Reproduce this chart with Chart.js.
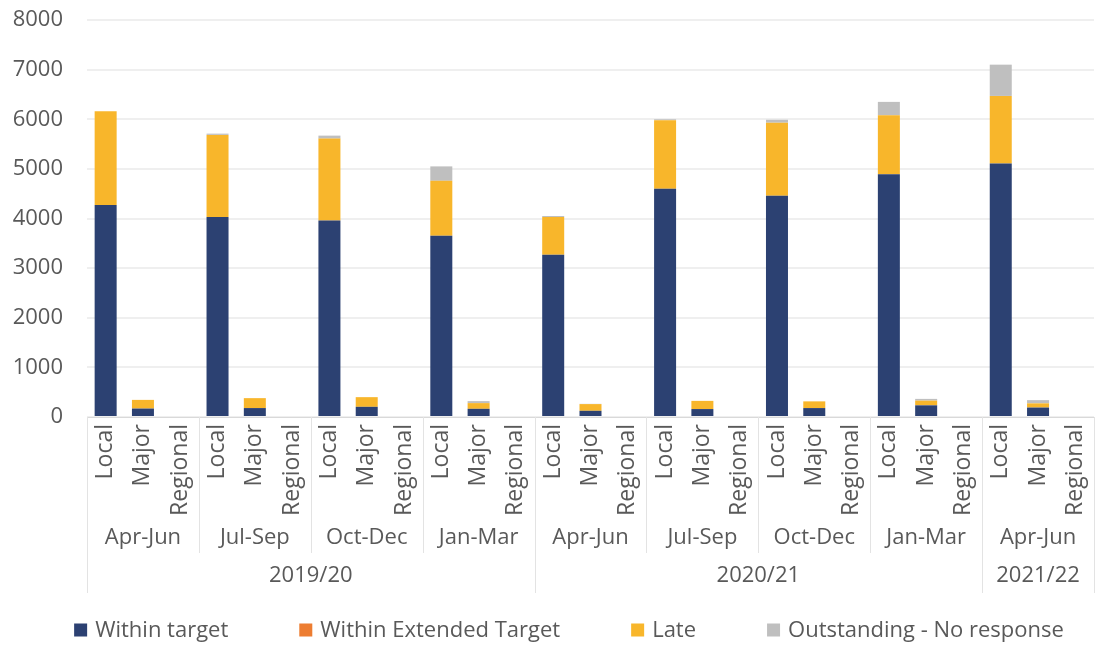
<!DOCTYPE html>
<html>
<head>
<meta charset="utf-8">
<script src="https://cdn.jsdelivr.net/npm/chart.js@4.4.1/dist/chart.umd.min.js"></script>
<style>
  html, body { margin: 0; padding: 0; background: #fff; overflow: hidden; }
  #wrap { width: 1101px; height: 646px; overflow: hidden; }
  canvas { display: block; }
</style>
</head>
<body>
<div id="wrap"><canvas id="chart" width="1110" height="646"></canvas></div>
<script>
// Category levels
const types = ['Local', 'Major', 'Regional'];
const quarters = ['Apr-Jun', 'Jul-Sep', 'Oct-Dec', 'Jan-Mar', 'Apr-Jun', 'Jul-Sep', 'Oct-Dec', 'Jan-Mar', 'Apr-Jun'];
const years = ['2019/20', '2020/21', '2021/22'];
const quartersPerYear = [4, 4, 1];

// Series values (Local, Major, Regional for each quarter)
const withinTarget = [4270, 170, 0, 4030, 180, 0, 3960, 205, 0, 3650, 165, 0, 3270, 125, 0, 4600, 160, 0, 4460, 180, 0, 4890, 235, 0, 5110, 190, 0];
const withinExtended = [0, 0, 0, 0, 0, 0, 0, 0, 0, 0, 0, 0, 0, 0, 0, 0, 0, 0, 0, 0, 0, 0, 0, 0, 0, 0, 0];
const late = [1890, 175, 0, 1655, 200, 0, 1650, 195, 0, 1110, 115, 0, 760, 135, 0, 1380, 165, 0, 1470, 135, 0, 1190, 95, 0, 1360, 85, 0];
const outstanding = [0, 0, 0, 25, 0, 0, 60, 0, 0, 290, 40, 0, 20, 5, 0, 20, 0, 0, 60, 0, 0, 270, 35, 0, 630, 65, 0];

const yTicks = [0, 1000, 2000, 3000, 4000, 5000, 6000, 7000, 8000];

const labels = [];
quarters.forEach(() => types.forEach(t => labels.push(t)));

const textColor = '#595959';
const fontFamily = '"Open Sans", "Noto Sans", sans-serif';

// Draws quarter / year levels, separators and the legend
const groupAxis = {
    id: 'groupAxis',
    afterDraw(chart) {
        const ctx = chart.ctx;
        const x = chart.scales.x;
        const base = chart.chartArea.bottom;
        const w = x.getPixelForValue(1) - x.getPixelForValue(0);

        ctx.save();
        ctx.font = '22px ' + fontFamily;
        ctx.fillStyle = textColor;
        ctx.textAlign = 'center';
        ctx.textBaseline = 'middle';
        ctx.strokeStyle = '#e3e3e3';
        ctx.lineWidth = 1;

        const vline = (px, bottom) => {
            ctx.beginPath();
            ctx.moveTo(Math.round(px) + 0.5, base);
            ctx.lineTo(Math.round(px) + 0.5, bottom);
            ctx.stroke();
        };

        let q = 0;
        years.forEach((yr, yi) => {
            const firstQ = q;
            for (let k = 0; k < quartersPerYear[yi]; k++, q++) {
                const left = x.getPixelForValue(q * types.length) - w / 2;
                const right = left + types.length * w;
                ctx.fillText(quarters[q], (left + right) / 2, base + 121);
                vline(left, base + (k === 0 ? 176 : 136));
            }
            const yl = x.getPixelForValue(firstQ * types.length) - w / 2;
            const yr2 = x.getPixelForValue(q * types.length - 1) + w / 2;
            ctx.fillText(yr, (yl + yr2) / 2, base + 159);
            if (yi === years.length - 1) vline(yr2, base + 176);
        });

        // legend
        ctx.font = '22px ' + fontFamily;
        ctx.textAlign = 'left';
        const box = 13, gapText = 8, gapItem = 71;
        const items = chart.data.datasets.map(d => ({ label: d.label, color: d.backgroundColor }));
        let total = 0;
        items.forEach((it, i) => {
            it.w = ctx.measureText(it.label).width;
            total += box + gapText + it.w + (i < items.length - 1 ? gapItem : 0);
        });
        let lx = 569 - total / 2;
        const ly = 630;
        items.forEach(it => {
            ctx.fillStyle = it.color;
            ctx.fillRect(lx, ly - box / 2, box, box);
            ctx.fillStyle = textColor;
            ctx.fillText(it.label, lx + box + gapText, ly + 1);
            lx += box + gapText + it.w + gapItem;
        });
        ctx.restore();
    }
};

const ctx = document.getElementById('chart').getContext('2d');
const barChart = new Chart(ctx, {
    type: 'bar',
    data: {
        labels: labels,
        datasets: [
            { label: 'Within target', data: withinTarget, backgroundColor: '#2c4172' },
            { label: 'Within Extended Target', data: withinExtended, backgroundColor: '#ed7d31' },
            { label: 'Late', data: late, backgroundColor: '#f8b62b' },
            { label: 'Outstanding - No response', data: outstanding, backgroundColor: '#bfbfbf' }
        ]
    },
    options: {
        responsive: false,
        animation: false,
        devicePixelRatio: 1,
        layout: { padding: { top: 20, right: 3, left: 0, bottom: 0 } },
        datasets: { bar: { barPercentage: 0.59, categoryPercentage: 1.0, borderWidth: 0 } },
        plugins: {
            legend: { display: false },
            tooltip: { enabled: false }
        },
        scales: {
            x: {
                stacked: true,
                grid: { display: false, drawTicks: false },
                border: { display: true, color: '#d9d9d9', width: 1 },
                ticks: {
                    autoSkip: false,
                    minRotation: 90,
                    maxRotation: 90,
                    padding: 7,
                    color: textColor,
                    font: { family: fontFamily, size: 23 }
                },
                afterFit(scale) { scale.height = 229; }
            },
            y: {
                stacked: true,
                min: 0,
                max: 8000,
                afterBuildTicks(scale) { scale.ticks = yTicks.map(v => ({ value: v })); },
                grid: { color: '#efefef', lineWidth: 2, drawTicks: false },
                border: { display: false },
                ticks: {
                    padding: 24,
                    color: textColor,
                    font: { family: fontFamily, size: 22 },
                    callback: v => String(v)
                },
                afterFit(scale) {
                    scale.width = 87;
                    scale.paddingTop = 0;
                    scale.paddingBottom = 0;
                }
            }
        }
    },
    plugins: [groupAxis]
});
</script>
</body>
</html>
